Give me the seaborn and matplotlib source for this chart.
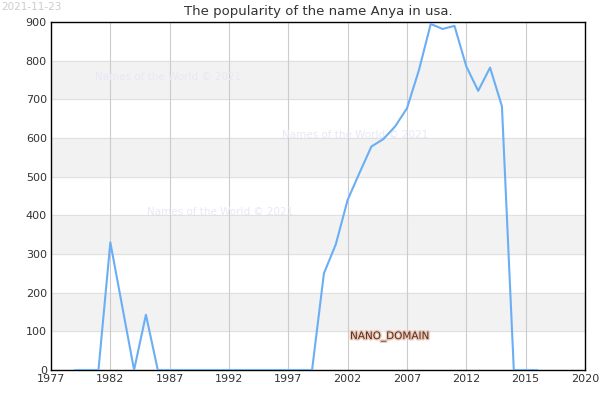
import matplotlib
matplotlib.use("Agg")
import matplotlib.pyplot as plt
import matplotlib.patheffects as pe
import seaborn as sns
import pandas as pd

years = list(range(1979, 2019))
values = [0, 0, 0, 330, 165, 0, 143] + [0]*14 + [250, 325, 440, 510, 578, 597, 630, 677, 775, 895, 882, 890, 785, 722, 782, 682, 0, 0, 0]
tick_pos = [1977, 1982, 1987, 1992, 1997, 2002, 2007, 2012, 2017, 2022]
tick_labels = ["1977", "1982", "1987", "1992", "1997", "2002", "2007", "2012", "2015", "2020"]
yticks = list(range(0, 1000, 100))

sns.set_style("white")
fig = plt.figure(figsize=(6, 4), dpi=100)
ax = fig.add_axes([51/600, 30/400, 534/600, 348/400])
for lo in [100, 300, 500, 700]:
    ax.axhspan(lo, lo+100, color="#f2f2f2", zorder=0)
for y in yticks:
    ax.axhline(y, color="#e0e0e0", lw=0.8, zorder=0.5)
for x in tick_pos[1:-1]:
    ax.axvline(x, color="#cccccc", lw=0.8, zorder=0.6)
df = pd.DataFrame({"year": years, "value": values})
sns.lineplot(data=df, x="year", y="value", ax=ax, color="#6aaef5", lw=1.5, zorder=3)
ax.set_xlim(1977, 2022)
ax.set_ylim(0, 900)
ax.set_xticks(tick_pos)
ax.set_xticklabels(tick_labels)
ax.set_yticks(yticks)
ax.set_xlabel("")
ax.set_ylabel("")
ax.tick_params(labelsize=8, colors="#333333", length=0, pad=3)
for s in ax.spines.values():
    s.set_color("black"); s.set_linewidth(1)
ax.set_title("The popularity of the name Anya in usa.", fontsize=9.5, color="#333333", pad=5)
for (x, y) in [(1980.7, 750), (1996.5, 600), (1985.1, 400)]:
    ax.text(x, y, "Names of the World © 2021", fontsize=7.5, color="#e8e8f8", zorder=1)
ax.text(2002.2, 80, "NANO_DOMAIN", fontsize=7.5, color="#5a2a1a",
        path_effects=[pe.withStroke(linewidth=2, foreground="#e8c8b8")], zorder=4)
fig.text(0.002, 0.995, "2021-11-23", fontsize=7.5, color="#cccccc", va="top")
fig.savefig("out.png", dpi=100)
